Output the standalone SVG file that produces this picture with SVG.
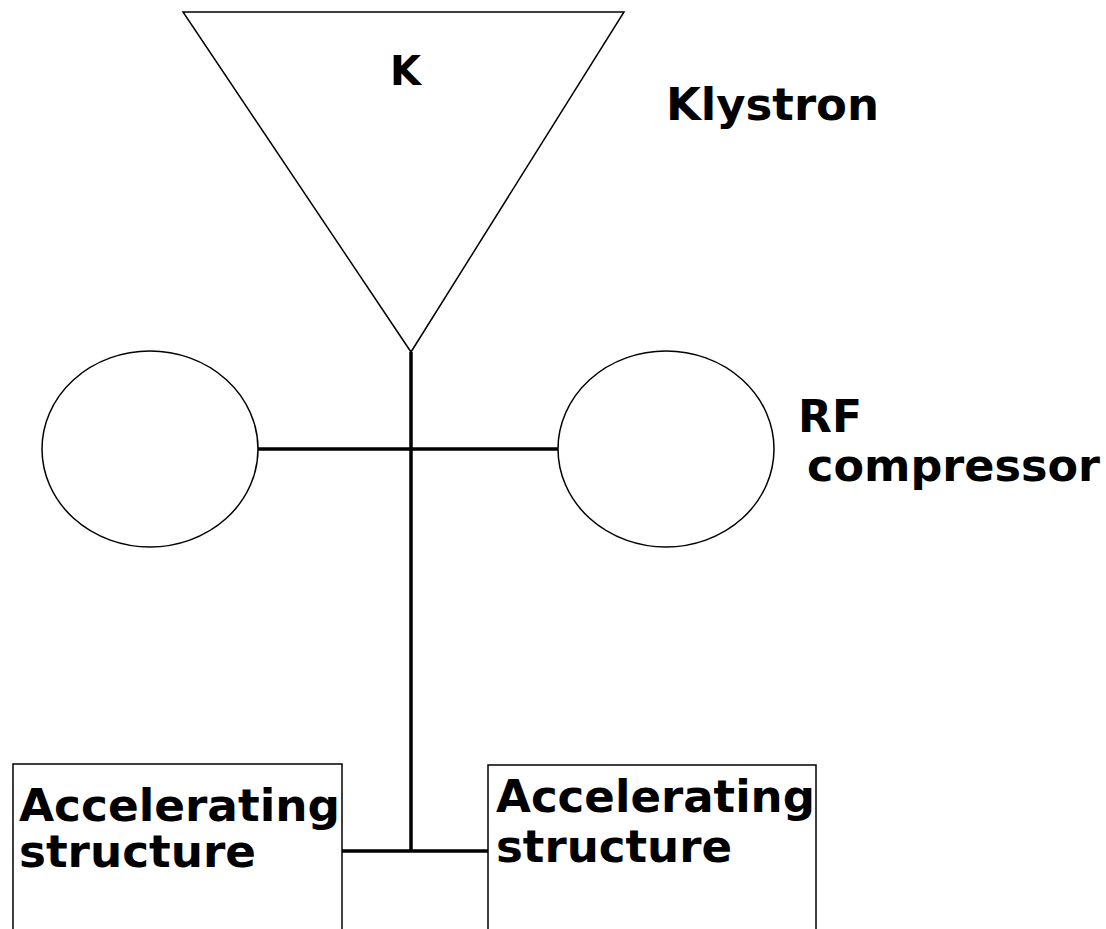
<svg xmlns="http://www.w3.org/2000/svg" width="1106" height="929" viewBox="0 0 1106 929">
<style>
.shape{fill:#fff;stroke:#000;stroke-width:1.5}
.conn{stroke:#000;stroke-width:3.5;fill:none}
text{font-family:"DejaVu Sans",sans-serif;font-weight:bold;fill:#000}
</style>
<rect width="1106" height="929" fill="#fff"/>
<g id="klystron">
<polygon class="shape" points="183,12 624,12 411,352"/>
<text x="390" y="85" font-size="40">K</text>
</g>
<g id="klystron-label"><text x="666" y="120" font-size="44" textLength="213" lengthAdjust="spacingAndGlyphs">Klystron</text></g>
<g id="compressor-left"><ellipse class="shape" cx="150" cy="449" rx="108" ry="98"/></g>
<g id="compressor-right"><ellipse class="shape" cx="666" cy="449" rx="108" ry="98"/></g>
<g id="compressor-label">
<text x="798" y="432" font-size="44">RF</text>
<text x="807" y="481" font-size="44" textLength="293" lengthAdjust="spacingAndGlyphs">compressor</text>
</g>
<g id="structure-left">
<rect class="shape" x="13" y="764" width="329" height="180"/>
<text x="19" y="821" font-size="44" textLength="321" lengthAdjust="spacingAndGlyphs">Accelerating</text>
<text x="19" y="867" font-size="44" textLength="237" lengthAdjust="spacingAndGlyphs">structure</text>
</g>
<g id="structure-right">
<rect class="shape" x="488" y="765" width="328" height="180"/>
<text x="496" y="812" font-size="44" textLength="319" lengthAdjust="spacingAndGlyphs">Accelerating</text>
<text x="496" y="862" font-size="44" textLength="236" lengthAdjust="spacingAndGlyphs">structure</text>
</g>
<g id="connectors">
<line class="conn" x1="411" y1="352" x2="411" y2="851"/>
<line class="conn" x1="258" y1="449" x2="558" y2="449"/>
<line class="conn" x1="342" y1="851" x2="488" y2="851"/>
</g>
</svg>
